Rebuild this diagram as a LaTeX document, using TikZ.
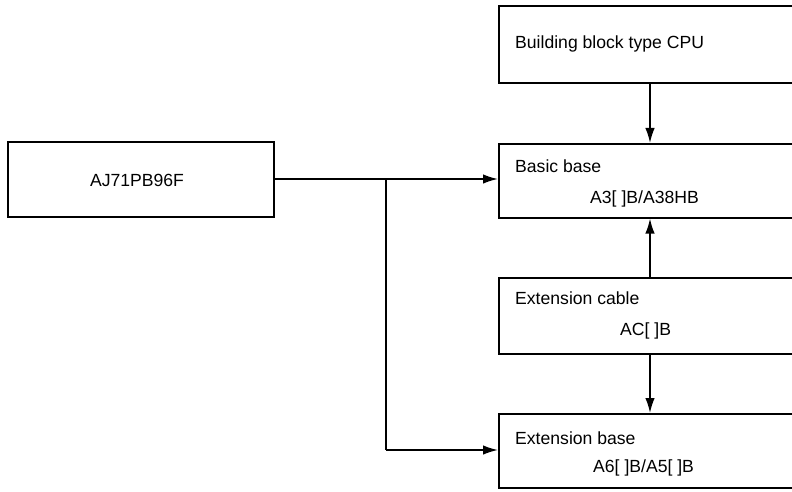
\documentclass[tikz,border=0pt]{standalone}
\usepackage{fontspec}
\setmainfont{Liberation Sans}
\usetikzlibrary{arrows.meta}
\begin{document}
\begin{tikzpicture}[x=1pt,y=-1pt,
  box/.style={draw=black, line width=1.6pt, rectangle, inner sep=0pt, anchor=north west},
  lbl/.style={font=\fontsize{17.6}{20}\selectfont, inner sep=0pt, anchor=west},
  conn/.style={line width=1.6pt, -{Latex[length=15pt,width=9.5pt]}},
  wire/.style={line width=1.6pt}
]
\useasboundingbox (0,0) rectangle (792,492);
\clip (0,0) rectangle (792,492);
% boxes
\node[box, minimum width=310pt, minimum height=77pt] (cpu) at (498,5) {};
\node[box, minimum width=310pt, minimum height=74pt] (basic) at (498,143) {};
\node[box, minimum width=310pt, minimum height=76pt] (cable) at (498,277) {};
\node[box, minimum width=310pt, minimum height=74pt] (ext) at (498,413) {};
\node[box, minimum width=266pt, minimum height=75pt] (aj) at (7,141) {};
% labels
\node[lbl] (cput) at (515,43.5) {Building block type CPU};
\node[lbl] (basict1) at (515,166) {Basic base};
\node[lbl] (basict2) at (590,199) {A3[ ]B/A38HB};
\node[lbl] (cablet1) at (515,298) {Extension cable};
\node[lbl] (cablet2) at (620,331) {AC[ ]B};
\node[lbl] (extt1) at (515,438) {Extension base};
\node[lbl] (extt2) at (593,468) {A6[ ]B/A5[ ]B};
\node[lbl, anchor=center] (ajt) at (137,180) {AJ71PB96F};
% connector helpers
\coordinate (ax) at (650,0);
\coordinate (jx) at (386,179);
\coordinate (jb) at (386,450);
% connectors
\draw[conn] (cpu.south -| ax) -- (basic.north -| ax);
\draw[conn] (cable.north -| ax) -- (basic.south -| ax);
\draw[conn] (cable.south -| ax) -- (ext.north -| ax);
\draw[conn] (aj.east |- jx) -- (basic.west |- jx);
\draw[wire] (jx) -- (jb);
\draw[conn] (jb) -- (ext.west |- jb);
\end{tikzpicture}
\end{document}
